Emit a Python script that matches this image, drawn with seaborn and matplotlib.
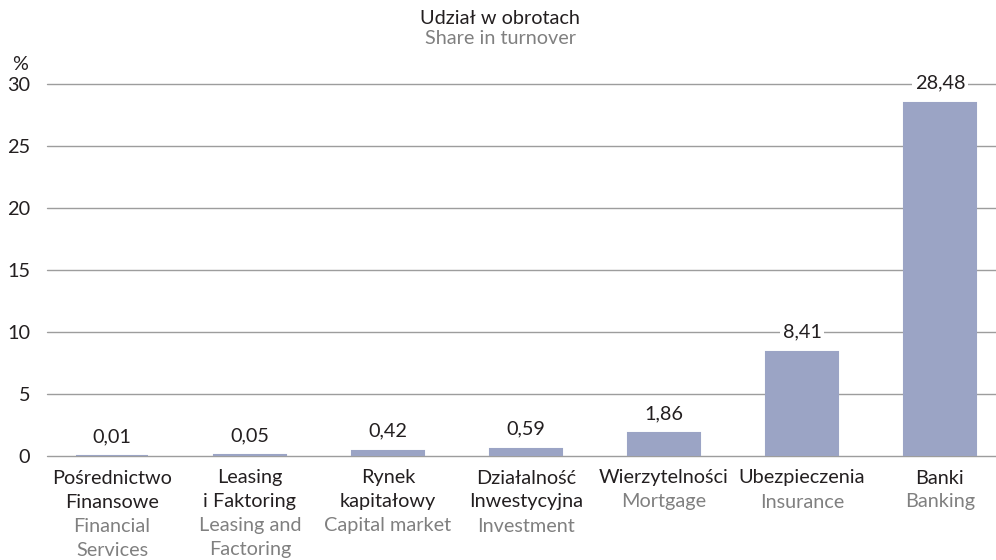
import pandas as pd
import seaborn as sns
import matplotlib.pyplot as plt

# dane z wykresu
kategorie_pl = ["Pośrednictwo\nFinansowe", "Leasing\ni Faktoring", "Rynek\nkapitałowy",
                "Działalność\nInwestycyjna", "Wierzytelności", "Ubezpieczenia", "Banki"]
kategorie_en = ["Financial\nServices", "Leasing and\nFactoring", "Capital market",
                "Investment", "Mortgage", "Insurance", "Banking"]
udzial = [0.01, 0.05, 0.42, 0.59, 1.86, 8.41, 28.48]
y_ticks = [0, 5, 10, 15, 20, 25, 30]

BAR = "#9ba4c5"
GRID = "#9d9d9d"
DARK = "#231f20"
GRAY = "#808080"
FS = 14.3

sns.set_theme(style="white")
plt.rcParams['font.family'] = ['Lato', 'DejaVu Sans']

df = pd.DataFrame({"kat": kategorie_pl, "val": udzial})

fig = plt.figure(figsize=(9.96, 5.6), dpi=100)
ax = fig.add_axes([47 / 996, 1 - 456 / 560, 1 - 47 / 996, (456 - 84) / 560])

sns.barplot(data=df, x="kat", y="val", color=BAR, saturation=1, width=0.52,
            edgecolor=BAR, linewidth=1.5, ax=ax, zorder=2)

ax.set_xlim(-0.471, 6.406)
ax.set_ylim(0, 30)
ax.set_yticks(y_ticks)
ax.set_yticklabels([str(t) for t in y_ticks], fontsize=FS, color=DARK)
for t in y_ticks:
    ax.axhline(t, color=GRID, lw=1, zorder=1, clip_on=False)
ax.tick_params(axis="y", length=0, pad=12)
ax.set_xticks(range(len(udzial)))
ax.set_xticklabels([])
ax.tick_params(axis="x", length=0)
ax.set_xlabel("")
ax.set_ylabel("")
for s in ax.spines.values():
    s.set_visible(False)

# etykiety wartości
for i, v in enumerate(udzial):
    ax.annotate(f"{v:.2f}".replace(".", ","), xy=(i, v), xytext=(0, 19.5),
                textcoords="offset pixels", ha="center", va="center",
                fontsize=FS, color=DARK, zorder=4,
                bbox=dict(boxstyle="square,pad=0.15", fc="white", ec="none"))

# podpisy kategorii: polski (czarny) + angielski (szary)
line_h = 24
for i, (pl, en) in enumerate(zip(kategorie_pl, kategorie_en)):
    lines = [(l, DARK) for l in pl.split("\n")] + [(l, GRAY) for l in en.split("\n")]
    for k, (txt, col) in enumerate(lines):
        ax.annotate(txt, xy=(i, 0), xycoords=("data", "axes fraction"),
                    xytext=(0, -22 - k * line_h), textcoords="offset pixels",
                    ha="center", va="center", fontsize=FS, color=col)

fig.text(500 / 996, 1 - 18 / 560, "Udział w obrotach", ha="center", va="center", fontsize=FS, color=DARK)
fig.text(500 / 996, 1 - 39 / 560, "Share in turnover", ha="center", va="center", fontsize=FS, color=GRAY)
fig.text(20 / 996, 1 - 64 / 560, "%", ha="center", va="center", fontsize=FS, color=DARK)

fig.savefig("out.png", dpi=100, facecolor="white")
